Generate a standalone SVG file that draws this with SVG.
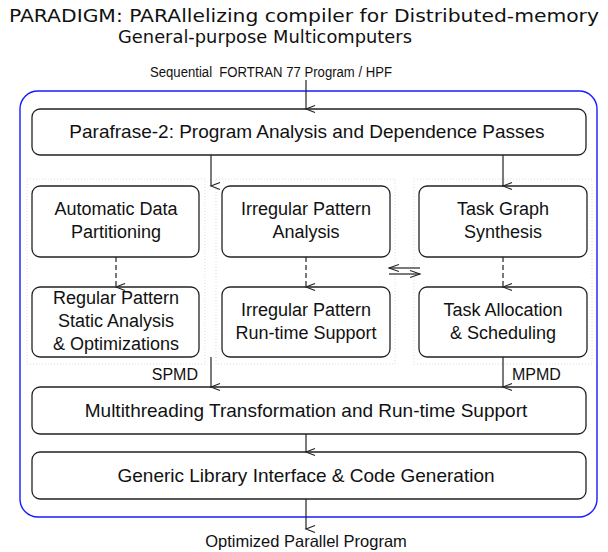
<svg xmlns="http://www.w3.org/2000/svg" width="608" height="552" viewBox="0 0 608 552">
<style>
.box{fill:#fff;stroke:#222;stroke-width:1.3}
.t{font-family:"Liberation Sans",Arial,sans-serif;font-size:18px;fill:#111;text-anchor:middle}
.w{font-size:19px}
.s{font-family:"Liberation Sans",Arial,sans-serif;font-size:14px;fill:#111;text-anchor:middle;white-space:pre}
.title{font-family:"DejaVu Sans",sans-serif;font-size:17.5px;fill:#111;text-anchor:middle}
.ln{stroke:#222;stroke-width:1.2;fill:none}
.dash{stroke-dasharray:5,3}
.col{fill:none;stroke:#dcdcdc;stroke-width:1;stroke-dasharray:1,2}
</style>
<defs>
<marker id="ah" markerWidth="10" markerHeight="12" refX="5" refY="10" orient="auto-start-reverse" markerUnits="userSpaceOnUse" viewBox="0 0 10 12">
<path d="M1.5,1 L5,10 L8.5,1" fill="none" stroke="#222" stroke-width="1.1"/>
</marker>
<marker id="ah2" markerWidth="12" markerHeight="10" refX="10" refY="5" orient="auto" markerUnits="userSpaceOnUse" viewBox="0 0 12 10">
<path d="M0,1.5 L10,5 L0,8.5" fill="none" stroke="#222" stroke-width="1.1"/>
</marker>
</defs>
<text class="title" x="304" y="22" textLength="590" lengthAdjust="spacingAndGlyphs">PARADIGM: PARAllelizing compiler for Distributed-memory</text>
<text class="title" x="265" y="43" textLength="294" lengthAdjust="spacingAndGlyphs">General-purpose Multicomputers</text>
<text class="s" x="271" y="77" textLength="242" lengthAdjust="spacingAndGlyphs" xml:space="preserve">Sequential  FORTRAN 77 Program / HPF</text>
<rect x="20" y="91" width="577" height="426" rx="18" fill="none" stroke="#1a1aff" stroke-width="1.4"/>
<g id="columns">
<rect class="col" x="27" y="179" width="178" height="185"/>
<rect class="col" x="216" y="179" width="179" height="185"/>
<rect class="col" x="414" y="179" width="178" height="185"/>
</g>
<g id="parafrase"><rect class="box" x="32" y="109" width="554" height="46" rx="8"/><text class="t w" x="307" y="138">Parafrase-2: Program Analysis and Dependence Passes</text></g>
<g id="adp"><rect class="box" x="32" y="186" width="167" height="71" rx="8"/><text class="t" x="116" y="215">Automatic Data</text><text class="t" x="116" y="238">Partitioning</text></g>
<g id="ipa"><rect class="box" x="222" y="186" width="168" height="71" rx="8"/><text class="t" x="306" y="215">Irregular Pattern</text><text class="t" x="306" y="238">Analysis</text></g>
<g id="tgs"><rect class="box" x="419" y="186" width="168" height="71" rx="8"/><text class="t" x="503" y="215">Task Graph</text><text class="t" x="503" y="238">Synthesis</text></g>
<g id="rpsa"><rect class="box" x="32" y="287" width="167" height="70" rx="8"/><text class="t" x="116" y="304">Regular Pattern</text><text class="t" x="116" y="327">Static Analysis</text><text class="t" x="116" y="350">&amp; Optimizations</text></g>
<g id="iprs"><rect class="box" x="222" y="287" width="168" height="70" rx="8"/><text class="t" x="306" y="316">Irregular Pattern</text><text class="t" x="306" y="339">Run-time Support</text></g>
<g id="tas"><rect class="box" x="419" y="287" width="168" height="70" rx="8"/><text class="t" x="503" y="316">Task Allocation</text><text class="t" x="503" y="339">&amp; Scheduling</text></g>
<g id="mt"><rect class="box" x="32" y="387" width="554" height="47" rx="8"/><text class="t w" x="306" y="417">Multithreading Transformation and Run-time Support</text></g>
<g id="gli"><rect class="box" x="32" y="452" width="554" height="47" rx="8"/><text class="t w" x="306" y="482">Generic Library Interface &amp; Code Generation</text></g>
<text class="t" x="306" y="547" style="font-size:16.5px">Optimized Parallel Program</text>
<g id="connectors">
<line class="ln" x1="306" y1="80" x2="306" y2="109" marker-end="url(#ah)"/>
<line class="ln" x1="211" y1="155" x2="211" y2="186" marker-end="url(#ah)"/>
<line class="ln" x1="503" y1="155" x2="503" y2="186" marker-end="url(#ah)"/>
<line class="ln dash" x1="116" y1="257" x2="116" y2="287" marker-end="url(#ah)"/>
<line class="ln dash" x1="306" y1="257" x2="306" y2="287" marker-end="url(#ah)"/>
<line class="ln dash" x1="503" y1="257" x2="503" y2="287" marker-end="url(#ah)"/>
<line class="ln" x1="420" y1="268" x2="389" y2="268" marker-end="url(#ah2)"/>
<line class="ln" x1="389" y1="274" x2="420" y2="274" marker-end="url(#ah2)"/>
<line class="ln" x1="211" y1="357" x2="211" y2="387" marker-end="url(#ah)"/>
<line class="ln" x1="503" y1="357" x2="503" y2="387" marker-end="url(#ah)"/>
<line class="ln" x1="306" y1="434" x2="306" y2="452" marker-end="url(#ah)"/>
<line class="ln" x1="306" y1="499" x2="306" y2="529" marker-end="url(#ah)"/>
<text class="t" x="198" y="380" style="text-anchor:end;font-size:16px">SPMD</text>
<text class="t" x="512" y="380" style="text-anchor:start;font-size:16px">MPMD</text>
</g>
</svg>
